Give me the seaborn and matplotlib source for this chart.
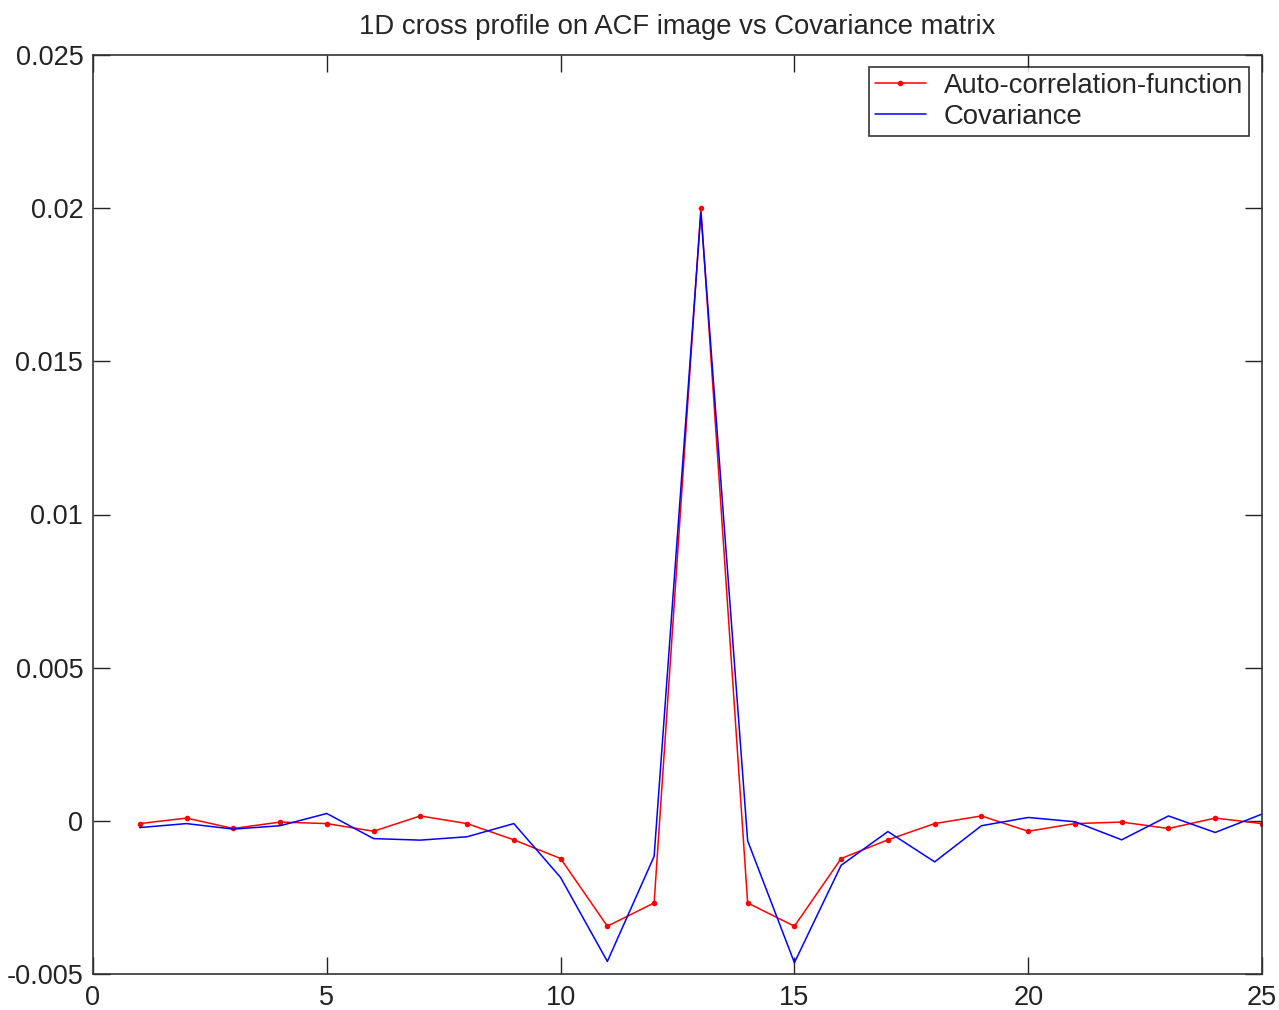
import numpy as np
import pandas as pd
import matplotlib
matplotlib.use('Agg')
import matplotlib.pyplot as plt
import seaborn as sns

# values
lags = list(range(1, 26))
acf = [-0.00009, 0.00009, -0.00025, -0.00004, -0.00009, -0.00034, 0.00016, -0.00009,
       -0.00062, -0.00123, -0.00344, -0.00268, 0.02000, -0.00268, -0.00344, -0.00123,
       -0.00062, -0.00009, 0.00016, -0.00034, -0.00009, -0.00004, -0.00025, 0.00009,
       -0.00009]
cov = [-0.00022, -0.00009, -0.00027, -0.00016, 0.00024, -0.00058, -0.00063, -0.00052,
       -0.00009, -0.00185, -0.00459, -0.00116, 0.01985, -0.00065, -0.00463, -0.00145,
       -0.00035, -0.00134, -0.00016, 0.00011, -0.00003, -0.00062, 0.00016, -0.00038,
       0.00022]
series_names = ['Auto-correlation-function', 'Covariance']
xticks = [0, 5, 10, 15, 20, 25]
yticks = [-0.005, 0, 0.005, 0.01, 0.015, 0.02, 0.025]
ytick_labels = ['-0.005', '0', '0.005', '0.01', '0.015', '0.02', '0.025']

sns.set_style('ticks')
plt.rcParams['font.family'] = ['Liberation Sans', 'DejaVu Sans']

df = pd.DataFrame({'lag': lags, 'acf': acf, 'cov': cov})

fig = plt.figure(figsize=(12.79, 10.10), dpi=100)
ax = fig.add_axes([93 / 1279, 36 / 1010, 1169 / 1279, 919 / 1010])

sns.lineplot(data=df, x='lag', y='acf', ax=ax, color='#ff0000', marker='o',
             markersize=4, markeredgewidth=0, linewidth=1.1, label=series_names[0])
sns.lineplot(data=df, x='lag', y='cov', ax=ax, color='#0000ff', linewidth=1.1,
             label=series_names[1])

ax.set_xlim(0, 25)
ax.set_ylim(-0.005, 0.025)
ax.set_xticks(xticks)
ax.set_xticklabels([str(t) for t in xticks])
ax.set_yticks(yticks)
ax.set_yticklabels(ytick_labels)
ax.set_xlabel('')
ax.set_ylabel('')
ax.tick_params(direction='in', length=12, width=1, labelsize=19.5, top=True, right=True,
               colors='#222222')
ax.tick_params(axis='x', pad=8)
ax.tick_params(axis='y', pad=7)
for s in ax.spines.values():
    s.set_linewidth(1.2)
    s.set_color('#333333')

ax.set_title('1D cross profile on ACF image vs Covariance matrix', fontsize=19.8, pad=15)

leg = ax.legend(loc='upper right', bbox_to_anchor=(0.9889, 0.9869), fontsize=19.8,
                frameon=True, fancybox=False, edgecolor='black', handlelength=1.85,
                handletextpad=0.65, borderpad=0.22, labelspacing=0.17, borderaxespad=0.0)
leg.get_frame().set_linewidth(1.2)

fig.savefig('out.png', dpi=100)
